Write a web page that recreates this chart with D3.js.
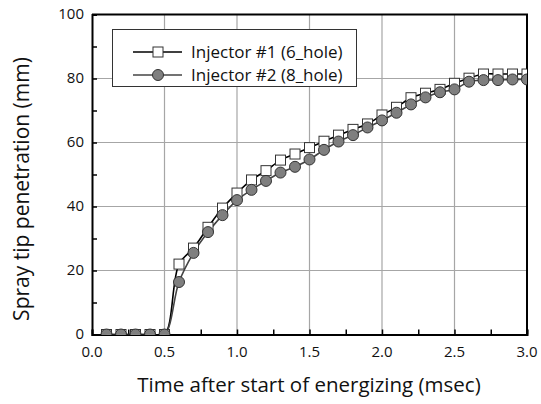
<!DOCTYPE html>
<html>
<head>
<meta charset="utf-8">
<script src="https://cdn.jsdelivr.net/npm/d3@7"></script>
<style>
  html, body { margin: 0; padding: 0; background: #fff; }
  svg { display: block; font-family: "Open Sans", sans-serif; }
</style>
</head>
<body>
<svg id="chart" width="541" height="404"></svg>
<script>
// Time after start of energizing (msec)
const times = [0.1, 0.2, 0.3, 0.4, 0.5, 0.6, 0.7, 0.8, 0.9, 1.0,
               1.1, 1.2, 1.3, 1.4, 1.5, 1.6, 1.7, 1.8, 1.9, 2.0,
               2.1, 2.2, 2.3, 2.4, 2.5, 2.6, 2.7, 2.8, 2.9, 3.0];
// Spray tip penetration (mm), injector #1 (6 hole)
const injector1 = [0, 0, 0, 0, 0, 22.0, 27.0, 33.5, 39.5, 44.2,
                   48.3, 51.2, 54.5, 56.4, 58.4, 60.4, 62.3, 64.1, 65.8, 68.6,
                   71.0, 74.0, 75.4, 76.6, 78.5, 80.1, 81.4, 81.4, 81.4, 81.4];
// Spray tip penetration (mm), injector #2 (8 hole)
const injector2 = [0, 0, 0, 0, 0, 16.4, 25.5, 32.0, 37.3, 42.0,
                   45.2, 48.0, 50.6, 52.4, 54.7, 57.7, 60.3, 62.3, 64.7, 66.9,
                   69.3, 71.9, 74.1, 75.7, 76.6, 79.0, 79.5, 79.5, 79.7, 79.7];
const seriesNames = ["Injector #1 (6_hole)", "Injector #2 (8_hole)"];
const xTicks = [0.0, 0.5, 1.0, 1.5, 2.0, 2.5, 3.0];
const yTicks = [0, 20, 40, 60, 80, 100];

const svg = d3.select("#chart");
const plotLeft = 92, plotRight = 527, plotTop = 14.5, plotBottom = 334.5;

const x = d3.scaleLinear().domain([0, 3]).range([plotLeft, plotRight]);
const y = d3.scaleLinear().domain([0, 100]).range([plotBottom, plotTop]);

svg.append("defs").append("clipPath").attr("id", "plotClip")
  .append("rect").attr("x", plotLeft).attr("y", plotTop)
  .attr("width", plotRight - plotLeft).attr("height", plotBottom - plotTop);

// grid lines at major ticks
const grid = svg.append("g").attr("stroke", "#a6a6a6").attr("stroke-width", 1.2);
grid.selectAll(".gx").data(xTicks.slice(1, -1)).join("line")
  .attr("x1", d => x(d)).attr("x2", d => x(d))
  .attr("y1", plotTop).attr("y2", plotBottom);
grid.selectAll(".gy").data(yTicks.slice(1, -1)).join("line")
  .attr("x1", plotLeft).attr("x2", plotRight)
  .attr("y1", d => y(d)).attr("y2", d => y(d));

// frame (top and right)
svg.append("path")
  .attr("d", `M${plotLeft},${plotTop}H${plotRight}V${plotBottom}`)
  .attr("fill", "none").attr("stroke", "#000").attr("stroke-width", 2);

// axes with inward ticks
const xAxis = d3.axisBottom(x).tickValues(d3.range(0, 3.001, 0.25))
  .tickSize(-5).tickFormat("");
const gx = svg.append("g").attr("transform", `translate(0,${plotBottom})`).call(xAxis);
const yAxis = d3.axisLeft(y).tickValues(d3.range(0, 100.001, 10))
  .tickSize(-5).tickFormat("");
const gy = svg.append("g").attr("transform", `translate(${plotLeft},0)`).call(yAxis);
[gx, gy].forEach(g => {
  g.select(".domain").attr("stroke", "#000").attr("stroke-width", 2);
  g.selectAll(".tick line").attr("stroke", "#000").attr("stroke-width", 1.5);
});

// tick labels
svg.append("g").selectAll("text").data(xTicks).join("text")
  .attr("x", d => x(d)).attr("y", plotBottom + 22)
  .attr("text-anchor", "middle").attr("font-size", 15).attr("fill", "#111")
  .text(d => d.toFixed(1));
svg.append("g").selectAll("text").data(yTicks).join("text")
  .attr("x", plotLeft - 8).attr("y", d => y(d) + 4.5)
  .attr("text-anchor", "end").attr("font-size", 15).attr("fill", "#111")
  .text(d => d);

// axis titles
svg.append("text").attr("x", 309).attr("y", 392)
  .attr("text-anchor", "middle").attr("font-size", 20.5).attr("fill", "#111")
  .text("Time after start of energizing (msec)");
svg.append("text").attr("transform", "translate(29,189) rotate(-90)")
  .attr("text-anchor", "middle").attr("font-size", 21).attr("fill", "#111")
  .text("Spray tip penetration (mm)");

// data
const plot = svg.append("g").attr("clip-path", "url(#plotClip)");
const line = d3.line().x(d => x(d[0])).y(d => y(d[1])).curve(d3.curveCatmullRom);
const pts1 = times.map((t, i) => [t, injector1[i]]);
const pts2 = times.map((t, i) => [t, injector2[i]]);

plot.append("path").datum(pts1).attr("d", line)
  .attr("fill", "none").attr("stroke", "#000").attr("stroke-width", 1.6);
plot.append("path").datum(pts2).attr("d", line)
  .attr("fill", "none").attr("stroke", "#444").attr("stroke-width", 1.6);

const sq = 10;
plot.selectAll(".sq").data(pts1).join("rect")
  .attr("x", d => x(d[0]) - sq / 2).attr("y", d => y(d[1]) - sq / 2)
  .attr("width", sq).attr("height", sq)
  .attr("fill", "#fff").attr("stroke", "#333").attr("stroke-width", 1);
plot.selectAll(".ci").data(pts2).join("circle")
  .attr("cx", d => x(d[0])).attr("cy", d => y(d[1])).attr("r", 5.5)
  .attr("fill", "#7f7f7f").attr("stroke", "#333").attr("stroke-width", 1);

// legend
const lg = svg.append("g");
lg.append("rect").attr("x", 112.5).attr("y", 29.5).attr("width", 244).attr("height", 57)
  .attr("fill", "#fff").attr("stroke", "#333").attr("stroke-width", 1);
const rows = [52, 75];
rows.forEach((ry, i) => {
  lg.append("line").attr("x1", 133).attr("x2", 182).attr("y1", ry).attr("y2", ry)
    .attr("stroke", i === 0 ? "#000" : "#444").attr("stroke-width", 1.6);
  if (i === 0) {
    lg.append("rect").attr("x", 158 - sq / 2).attr("y", ry - sq / 2)
      .attr("width", sq).attr("height", sq)
      .attr("fill", "#fff").attr("stroke", "#333");
  } else {
    lg.append("circle").attr("cx", 158).attr("cy", ry).attr("r", 5.5)
      .attr("fill", "#7f7f7f").attr("stroke", "#333");
  }
  lg.append("text").attr("x", 191).attr("y", ry + 6)
    .attr("font-size", 17).attr("fill", "#111").text(seriesNames[i]);
});
</script>
</body>
</html>
